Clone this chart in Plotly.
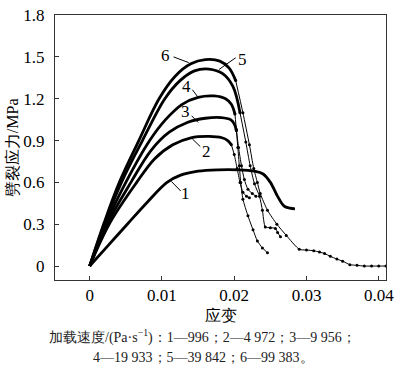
import plotly.graph_objects as go

# ---- data (strain, splitting stress MPa) ----
c1_x = [0, 0.0026, 0.0052, 0.0080, 0.0107, 0.0125, 0.015, 0.0178, 0.0205, 0.0228, 0.0240, 0.0250, 0.0260, 0.0269, 0.0277, 0.0284]
c1_y = [0, 0.15, 0.30, 0.46, 0.60, 0.65, 0.68, 0.69, 0.69, 0.68, 0.66, 0.60, 0.50, 0.43, 0.415, 0.41]

c2_x = [0, 0.0028, 0.0065, 0.0090, 0.0115, 0.0140, 0.0165, 0.0183, 0.0191, 0.0196]
c2_y = [0, 0.31, 0.60, 0.77, 0.87, 0.92, 0.93, 0.92, 0.90, 0.87]
c2_dx = [0.0196, 0.0200, 0.0204, 0.0208, 0.0212, 0.0217, 0.0221]
c2_dy = [0.87, 0.80, 0.70, 0.60, 0.53, 0.50, 0.49]

c3_x = [0, 0.0025, 0.0057, 0.0085, 0.0110, 0.0135, 0.0160, 0.0182, 0.0195, 0.0200, 0.0203]
c3_y = [0, 0.31, 0.60, 0.83, 0.96, 1.03, 1.06, 1.065, 1.05, 1.02, 0.97]
c3_dx = [0.0203, 0.0205, 0.0207, 0.0209, 0.0212, 0.0219, 0.0226, 0.0232, 0.0239, 0.0246]
c3_dy = [0.97, 0.85, 0.72, 0.60, 0.48, 0.36, 0.26, 0.18, 0.13, 0.095]

c4_x = [0, 0.0023, 0.0050, 0.0083, 0.0105, 0.0128, 0.0150, 0.0172, 0.0188, 0.0196, 0.0201]
c4_y = [0, 0.31, 0.60, 0.90, 1.05, 1.16, 1.21, 1.22, 1.20, 1.16, 1.09]
c4_dx = [0.0201, 0.0203, 0.0206, 0.0210, 0.0214, 0.0219, 0.0225, 0.0230]
c4_dy = [1.09, 0.98, 0.85, 0.72, 0.62, 0.55, 0.52, 0.50]

c5_x = [0, 0.0021, 0.0044, 0.0073, 0.0104, 0.0125, 0.0145, 0.0165, 0.0184, 0.0198, 0.0208]
c5_y = [0, 0.31, 0.60, 0.90, 1.20, 1.33, 1.40, 1.413, 1.38, 1.29, 1.10]
c5_dx = [0.0208, 0.0216, 0.0222, 0.0228, 0.0235, 0.0239, 0.0243, 0.0250, 0.0257, 0.0260, 0.0264]
c5_dy = [1.10, 0.89, 0.72, 0.59, 0.50, 0.40, 0.28, 0.275, 0.27, 0.24, 0.21]

c6_x = [0, 0.0020, 0.0041, 0.0068, 0.0096, 0.0118, 0.0140, 0.0160, 0.0180, 0.0193, 0.0202]
c6_y = [0, 0.31, 0.60, 0.90, 1.20, 1.36, 1.45, 1.48, 1.47, 1.42, 1.33]
c6_dx = [0.0202, 0.0212, 0.0221, 0.0227, 0.0232, 0.0236, 0.0246, 0.0259, 0.0272, 0.0290, 0.0300,
         0.0310, 0.0318, 0.0325, 0.0333, 0.0342, 0.0350, 0.0360, 0.0370, 0.0380, 0.0390, 0.0400, 0.0410]
c6_dy = [1.33, 1.10, 0.87, 0.70, 0.60, 0.52, 0.40, 0.30, 0.22, 0.12, 0.115,
         0.11, 0.10, 0.09, 0.07, 0.05, 0.035, 0.01, 0.005, 0.0, 0.0, 0.0, 0.0]

x_ticks = [0, 0.01, 0.02, 0.03, 0.04]
x_tick_text = ["0", "0.01", "0.02", "0.03", "0.04"]
y_ticks = [0, 0.3, 0.6, 0.9, 1.2, 1.5, 1.8]
y_tick_text = ["0", "0.3", "0.6", "0.9", "1.2", "1.5", "1.8"]

curve_labels = ["1", "2", "3", "4", "5", "6"]
label_pos = [(0.0133, 0.52), (0.0161, 0.82), (0.0133, 1.105), (0.0134, 1.29), (0.0211, 1.48), (0.0105, 1.508)]
leader_lines = [
    ((0.0126, 0.538), (0.0113, 0.607)),
    ((0.0153, 0.857), (0.0142, 0.912)),
    ((0.0141, 1.078), (0.0150, 1.03)),
    ((0.0142, 1.265), (0.0150, 1.21)),
    ((0.0202, 1.494), (0.0179, 1.41)),
    ((0.0116, 1.50), (0.0137, 1.459)),
]

y_title = "劈裂应力/MPa"
x_title = "应变"
caption1 = "加载速度/(Pa·s<sup>−1</sup>)：1—996；2—4 972；3—9 956；"
caption2 = "4—19 933；5—39 842；6—99 383。"

FONT = "Times New Roman, Tinos, Liberation Serif, DejaVu Serif, serif"

fig = go.Figure()
solid = [(c1_x, c1_y), (c2_x, c2_y), (c3_x, c3_y), (c4_x, c4_y), (c5_x, c5_y), (c6_x, c6_y)]
dotted = [(c2_dx, c2_dy), (c3_dx, c3_dy), (c4_dx, c4_dy), (c5_dx, c5_dy), (c6_dx, c6_dy)]

for xs, ys in dotted:
    fig.add_trace(go.Scatter(x=xs, y=ys, mode="lines+markers",
                             line=dict(color="black", width=1, shape="spline", smoothing=0.6),
                             marker=dict(color="black", size=3), showlegend=False))
for xs, ys in solid:
    fig.add_trace(go.Scatter(x=xs, y=ys, mode="lines",
                             line=dict(color="black", width=2.8, shape="spline", smoothing=1.0),
                             showlegend=False))

for (lbl, (lx, ly)) in zip(curve_labels, label_pos):
    fig.add_annotation(x=lx, y=ly, xref="x", yref="y", text=lbl, showarrow=False,
                       xanchor="center", yanchor="middle",
                       font=dict(family=FONT, size=17, color="black"))
for (p0, p1) in leader_lines:
    fig.add_shape(type="line", xref="x", yref="y", x0=p0[0], y0=p0[1], x1=p1[0], y1=p1[1],
                  line=dict(color="black", width=1))

fig.add_annotation(x=-0.128, y=0.5, xref="paper", yref="paper", text=y_title, textangle=-90,
                   xanchor="center", yanchor="middle",
                   showarrow=False, font=dict(family=FONT, size=16, color="black"))
fig.add_annotation(x=0.5, y=-0.135, xref="paper", yref="paper", text=x_title,
                   xanchor="center", yanchor="middle",
                   showarrow=False, font=dict(family=FONT, size=16, color="black"))
fig.add_annotation(x=0.445, y=-0.212, xref="paper", yref="paper", text=caption1,
                   xanchor="center", yanchor="middle",
                   showarrow=False, font=dict(family=FONT, size=14, color="#222"))
fig.add_annotation(x=0.45, y=-0.293, xref="paper", yref="paper", text=caption2,
                   xanchor="center", yanchor="middle",
                   showarrow=False, font=dict(family=FONT, size=14, color="#222"))

axis_common = dict(showgrid=False, zeroline=False, showline=True, linecolor="#333", linewidth=1,
                   mirror=True, ticks="inside", ticklen=4, tickcolor="#333",
                   ticklabeloverflow="allow",
                   tickfont=dict(family=FONT, size=17, color="black"))
fig.update_xaxes(range=[-0.0048, 0.041], tickvals=x_ticks, ticktext=x_tick_text, **axis_common)
fig.update_yaxes(range=[-0.1, 1.8005], tickvals=y_ticks, ticktext=y_tick_text, ticklabelstandoff=6, **axis_common)

fig.update_layout(width=400, height=377, margin=dict(l=55, r=10, t=6, b=97),
                  plot_bgcolor="white", paper_bgcolor="white")

fig.write_html("out.html", config={"displayModeBar": False},
               post_script="document.body.style.margin='0';")
